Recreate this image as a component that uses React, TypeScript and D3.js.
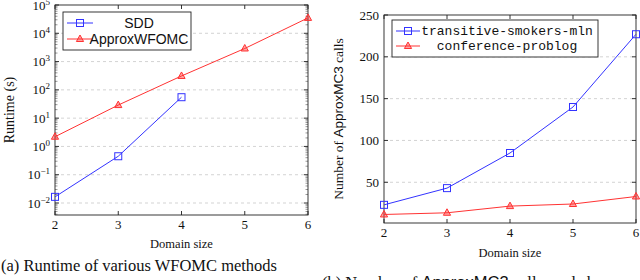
import * as d3 from 'd3'
import { useEffect, useRef } from 'react'

// shared x categories
const domainSizes = [2, 3, 4, 5, 6]

// (a) runtimes in seconds
const sddSizes = [2, 3, 4]
const sddRuntime = [0.0165, 0.45, 55]
const approxRuntime = [2.2, 29, 310, 2900, 35000]
const logTickExps = [-2, -1, 0, 1, 2, 3, 4, 5]

// (b) number of ApproxMC3 calls
const smokersCalls = [23, 43, 85, 140, 227]
const conferenceCalls = [11.5, 13.5, 21.5, 24, 33]
const callTicks = [50, 100, 150, 200, 250]

const SERIF = '"Liberation Serif", "DejaVu Serif", serif'
const SANS = '"Liberation Sans", Arial, sans-serif'
const MONO = '"Liberation Mono", "DejaVu Sans Mono", monospace'
const BLUE = '#3333ff'
const RED = '#ff3333'

export default function App() {
  const ref = useRef<SVGSVGElement>(null)

  useEffect(() => {
    const svg = d3.select(ref.current)
    svg.selectAll('*').remove()

    const square = (g: any, x: number, y: number) =>
      g.append('rect').attr('x', x - 3.5).attr('y', y - 3.5).attr('width', 7).attr('height', 7)
        .attr('fill', 'none').attr('stroke', BLUE).attr('stroke-width', 1)
    const tri = (g: any, x: number, y: number) =>
      g.append('path').attr('d', `M${x},${y - 4}L${x + 3.6},${y + 2.5}L${x - 3.6},${y + 2.5}Z`)
        .attr('fill', RED).attr('fill-opacity', 0.45).attr('stroke', RED).attr('stroke-width', 1)

    // ---------- (a) runtime, log scale ----------
    const a = { l: 55, r: 308, t: 5, b: 215 }
    const xa = d3.scaleLinear().domain([2, 6]).range([a.l, a.r])
    const ya = d3.scaleLog().domain([Math.pow(10, -2.424), 1e5]).range([a.b, a.t])
    const ga = svg.append('g')

    logTickExps.forEach(e => {
      const y = ya(Math.pow(10, e))
      if (e < 5) {
        ga.append('line').attr('x1', a.l).attr('x2', a.r).attr('y1', y).attr('y2', y)
          .attr('stroke', '#c8c8c8').attr('stroke-dasharray', '3,3').attr('stroke-width', 0.8)
      }
      ga.append('line').attr('x1', a.l).attr('x2', a.l + 4).attr('y1', y).attr('y2', y).attr('stroke', '#333')
      ga.append('line').attr('x1', a.r).attr('x2', a.r - 4).attr('y1', y).attr('y2', y).attr('stroke', '#333')
      const t = ga.append('text').attr('x', 50).attr('y', y + 4.5).attr('text-anchor', 'end')
        .attr('font-family', SERIF).attr('font-size', 13).attr('fill', '#111')
      t.append('tspan').text('10')
      t.append('tspan').attr('dy', -5).attr('font-size', 9).text(e < 0 ? `\u2212${-e}` : `${e}`)
      // minor ticks
      for (let m = 2; m <= 9; m++) {
        const v = m * Math.pow(10, e - 1)
        if (v < ya.domain()[0] || v > 1e5) continue
        const my = ya(v)
        ga.append('line').attr('x1', a.l).attr('x2', a.l + 2.5).attr('y1', my).attr('y2', my).attr('stroke', '#555').attr('stroke-width', 0.6)
        ga.append('line').attr('x1', a.r).attr('x2', a.r - 2.5).attr('y1', my).attr('y2', my).attr('stroke', '#555').attr('stroke-width', 0.6)
      }
    })
    domainSizes.forEach(d => {
      const x = xa(d)
      ga.append('line').attr('x1', x).attr('x2', x).attr('y1', a.b).attr('y2', a.b - 4).attr('stroke', '#333')
      ga.append('line').attr('x1', x).attr('x2', x).attr('y1', a.t).attr('y2', a.t + 4).attr('stroke', '#333')
      ga.append('text').attr('x', x).attr('y', a.b + 14).attr('text-anchor', 'middle')
        .attr('font-family', SERIF).attr('font-size', 13).attr('fill', '#111').text(d)
    })
    ga.append('rect').attr('x', a.l).attr('y', a.t).attr('width', a.r - a.l).attr('height', a.b - a.t)
      .attr('fill', 'none').attr('stroke', '#222').attr('stroke-width', 0.9)

    const lineA = d3.line<[number, number]>().x(d => xa(d[0])).y(d => ya(d[1]))
    const sddPts = sddSizes.map((d, i) => [d, sddRuntime[i]] as [number, number])
    const apxPts = domainSizes.map((d, i) => [d, approxRuntime[i]] as [number, number])
    ga.append('path').attr('d', lineA(apxPts)).attr('fill', 'none').attr('stroke', RED).attr('stroke-width', 1)
    ga.append('path').attr('d', lineA(sddPts)).attr('fill', 'none').attr('stroke', BLUE).attr('stroke-width', 1)
    apxPts.forEach(p => tri(ga, xa(p[0]), ya(p[1])))
    sddPts.forEach(p => square(ga, xa(p[0]), ya(p[1])))

    // legend (a)
    ga.append('rect').attr('x', 63).attr('y', 12).attr('width', 128).attr('height', 38)
      .attr('fill', '#fff').attr('stroke', '#222').attr('stroke-width', 0.9)
    ga.append('line').attr('x1', 67).attr('x2', 93).attr('y1', 23).attr('y2', 23).attr('stroke', BLUE)
    square(ga, 80, 23)
    ga.append('text').attr('x', 139).attr('y', 28).attr('text-anchor', 'middle')
      .attr('font-family', SANS).attr('font-size', 14).attr('fill', '#111').text('SDD')
    ga.append('line').attr('x1', 67).attr('x2', 93).attr('y1', 39).attr('y2', 39).attr('stroke', RED)
    tri(ga, 80, 39)
    ga.append('text').attr('x', 139).attr('y', 44).attr('text-anchor', 'middle')
      .attr('font-family', SANS).attr('font-size', 14).attr('fill', '#111').text('ApproxWFOMC')

    ga.append('text').attr('transform', `translate(14,${(a.t + a.b) / 2}) rotate(-90)`)
      .attr('text-anchor', 'middle').attr('font-family', SERIF).attr('font-size', 14).attr('fill', '#111')
      .text('Runtime (s)')
    ga.append('text').attr('x', (a.l + a.r) / 2).attr('y', 248).attr('text-anchor', 'middle')
      .attr('font-family', SERIF).attr('font-size', 12.5).attr('fill', '#111').text('Domain size')

    // ---------- (b) ApproxMC3 calls ----------
    const b = { l: 384, r: 636, t: 15, b: 223 }
    const xb = d3.scaleLinear().domain([2, 6]).range([b.l, b.r])
    const yb = d3.scaleLinear().domain([1.3, 250]).range([b.b, b.t])
    const gb = svg.append('g')

    callTicks.forEach(v => {
      const y = yb(v)
      if (v < 250) {
        gb.append('line').attr('x1', b.l).attr('x2', b.r).attr('y1', y).attr('y2', y)
          .attr('stroke', '#c8c8c8').attr('stroke-dasharray', '3,3').attr('stroke-width', 0.8)
      }
      gb.append('line').attr('x1', b.l).attr('x2', b.l + 4).attr('y1', y).attr('y2', y).attr('stroke', '#333')
      gb.append('line').attr('x1', b.r).attr('x2', b.r - 4).attr('y1', y).attr('y2', y).attr('stroke', '#333')
      gb.append('text').attr('x', 379).attr('y', y + 4.5).attr('text-anchor', 'end')
        .attr('font-family', SERIF).attr('font-size', 13).attr('fill', '#111').text(v)
    })
    domainSizes.forEach(d => {
      const x = xb(d)
      gb.append('line').attr('x1', x).attr('x2', x).attr('y1', b.b).attr('y2', b.b - 4).attr('stroke', '#333')
      gb.append('line').attr('x1', x).attr('x2', x).attr('y1', b.t).attr('y2', b.t + 4).attr('stroke', '#333')
      gb.append('text').attr('x', x).attr('y', b.b + 14).attr('text-anchor', 'middle')
        .attr('font-family', SERIF).attr('font-size', 13).attr('fill', '#111').text(d)
    })
    gb.append('rect').attr('x', b.l).attr('y', b.t).attr('width', b.r - b.l).attr('height', b.b - b.t)
      .attr('fill', 'none').attr('stroke', '#222').attr('stroke-width', 0.9)

    const lineB = d3.line<number>().x((_, i) => xb(domainSizes[i])).y(d => yb(d))
    gb.append('path').attr('d', lineB(conferenceCalls)).attr('fill', 'none').attr('stroke', RED).attr('stroke-width', 1)
    gb.append('path').attr('d', lineB(smokersCalls)).attr('fill', 'none').attr('stroke', BLUE).attr('stroke-width', 1)
    conferenceCalls.forEach((v, i) => tri(gb, xb(domainSizes[i]), yb(v)))
    smokersCalls.forEach((v, i) => square(gb, xb(domainSizes[i]), yb(v)))

    // legend (b)
    gb.append('rect').attr('x', 392).attr('y', 20).attr('width', 206).attr('height', 37)
      .attr('fill', '#fff').attr('stroke', '#222').attr('stroke-width', 0.9)
    gb.append('line').attr('x1', 396).attr('x2', 420).attr('y1', 31).attr('y2', 31).attr('stroke', BLUE)
    square(gb, 408, 31)
    gb.append('text').attr('x', 507).attr('y', 35).attr('text-anchor', 'middle')
      .attr('font-family', MONO).attr('font-size', 13).attr('fill', '#111').text('transitive-smokers-mln')
    gb.append('line').attr('x1', 396).attr('x2', 420).attr('y1', 46).attr('y2', 46).attr('stroke', RED)
    tri(gb, 408, 46)
    gb.append('text').attr('x', 507).attr('y', 50).attr('text-anchor', 'middle')
      .attr('font-family', MONO).attr('font-size', 13).attr('fill', '#111').text('conference-problog')

    const yl = gb.append('text').attr('transform', `translate(343,${(b.t + b.b) / 2}) rotate(-90)`)
      .attr('text-anchor', 'middle').attr('font-family', SERIF).attr('font-size', 13.5).attr('fill', '#111')
    yl.append('tspan').text('Number of ')
    yl.append('tspan').attr('font-family', SANS).text('ApproxMC3')
    yl.append('tspan').text(' calls')
    gb.append('text').attr('x', (b.l + b.r) / 2).attr('y', 257).attr('text-anchor', 'middle')
      .attr('font-family', SERIF).attr('font-size', 12.5).attr('fill', '#111').text('Domain size')

    // captions
    svg.append('text').attr('x', 1).attr('y', 271).attr('font-family', SERIF).attr('font-size', 16.5)
      .attr('fill', '#111').text('(a) Runtime of various WFOMC methods')
    const cb = svg.append('text').attr('x', 322).attr('y', 288).attr('font-family', SERIF).attr('font-size', 16.5)
      .attr('fill', '#111')
    cb.append('tspan').text('(b) Number of ')
    cb.append('tspan').attr('font-family', SANS).text('ApproxMC3')
    cb.append('tspan').text(' calls made by')
  }, [])

  return (
    <svg ref={ref} width={640} height={280}
      style={{ position: 'absolute', left: 0, top: 0, background: '#fff' }} />
  )
}
